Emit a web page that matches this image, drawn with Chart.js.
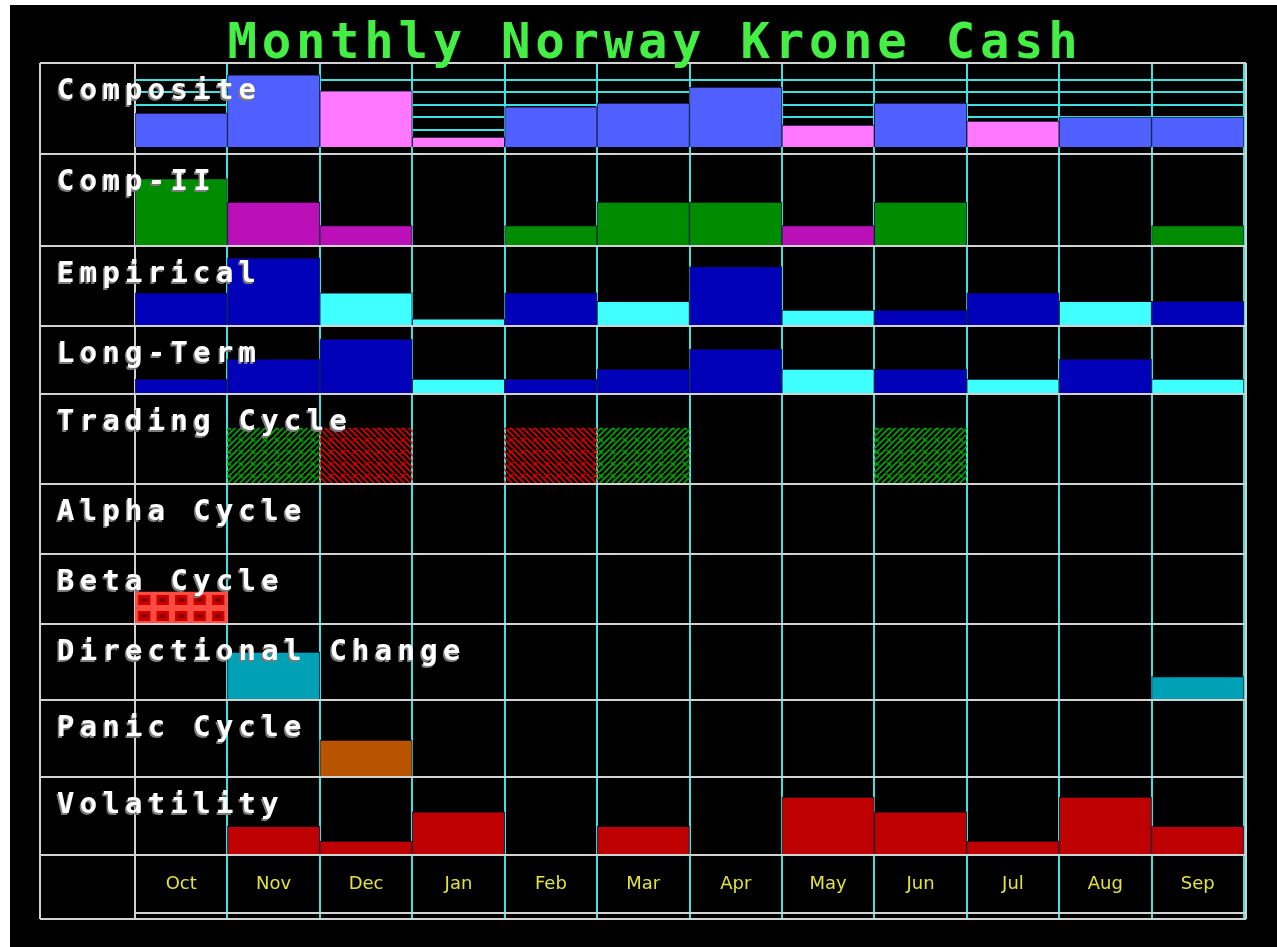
<!DOCTYPE html>
<html>
<head>
<meta charset="utf-8">
<script src="https://cdn.jsdelivr.net/npm/chart.js@4"></script>
<style>
  html, body { margin: 0; padding: 0; background: #fff; overflow: hidden; }
  #chart { position: absolute; left: 10px; top: 5px; background: #000; }
</style>
</head>
<body>
<canvas id="chart" width="1267" height="942"></canvas>
<script>
// months along the bottom
const months = ["Oct", "Nov", "Dec", "Jan", "Feb", "Mar", "Apr", "May", "Jun", "Jul", "Aug", "Sep"];
const rowNames = ["Composite", "Comp-II", "Empirical", "Long-Term", "Trading Cycle",
  "Alpha Cycle", "Beta Cycle", "Directional Change", "Panic Cycle", "Volatility"];

// signed readings, negative = bearish colour, 0 = nothing drawn
const composite = [2.35, 5.37, -4.1, -0.44, 2.83, 3.14, 4.41, -1.4, 3.14, -1.71, 2.03, 2.03];
const compII = [3, -2, -1, 0, 1, 2, 2, -1, 2, 0, 0, 1];
const empirical = [4, 8, -4, -1, 4, -3, 7, -2, 2, 4, -3, 3];
const longTerm = [1, 3, 5, -1, 1, 2, 4, -2, 2, -1, 3, -1];
const tradingCycle = [0, 1, -1, 0, -1, 1, 0, 0, 1, 0, 0, 0];
const alphaCycle = [0, 0, 0, 0, 0, 0, 0, 0, 0, 0, 0, 0];
const betaCycle = [1, 0, 0, 0, 0, 0, 0, 0, 0, 0, 0, 0];
const directionalChange = [0, 2, 0, 0, 0, 0, 0, 0, 0, 0, 0, 1];
const panicCycle = [0, 0, 1, 0, 0, 0, 0, 0, 0, 0, 0, 0];
const volatility = [0, 2, 1, 3, 0, 2, 0, 4, 3, 1, 4, 2];

const CYAN = "#3fe0e0";
const FRAME = "#d2d2d2";

function hatch(color, dir) {
  const c = document.createElement("canvas");
  c.width = c.height = 12;
  const g = c.getContext("2d");
  g.strokeStyle = color;
  g.lineWidth = 1.6;
  g.beginPath();
  for (let k = -12; k <= 24; k += 6) {
    if (dir > 0) { g.moveTo(k, 12); g.lineTo(k + 12, 0); }
    else { g.moveTo(k, 0); g.lineTo(k + 12, 12); }
  }
  g.stroke();
  g.beginPath();
  if (dir > 0) { g.moveTo(1, 1); g.lineTo(5, 5); } else { g.moveTo(11, 1); g.lineTo(7, 5); }
  g.stroke();
  return g.createPattern(c, "repeat");
}

function cells() {
  const c = document.createElement("canvas");
  c.width = 18; c.height = 16;
  const g = c.getContext("2d");
  g.fillStyle = "#ff4a40";
  g.fillRect(0, 0, 18, 16);
  g.fillStyle = "#c80000";
  g.fillRect(3, 3, 12, 10);
  g.fillStyle = "#8a0000";
  g.fillRect(6, 6, 6, 4);
  return g.createPattern(c, "repeat");
}

const greenHatch = hatch("#00a800", 1);
const redHatch = hatch("#e00000", -1);
const betaCells = cells();

// one row per indicator: weight = row height, scale range, bar base, colours
const rows = [
  { id: "yComp", data: composite, weight: 91, min: -0.905, max: 6.317, base: -0.35, up: "#5060ff", down: "#ff78ff", grid: true },
  { id: "yComp2", data: compII, weight: 92, min: 0.128, max: 4.043, up: "#008c00", down: "#bb10b8" },
  { id: "yEmp", data: empirical, weight: 80, min: 0.172, max: 9.37, up: "#0000b8", down: "#40ffff" },
  { id: "yLong", data: longTerm, weight: 68, min: -0.5, max: 6.3, up: "#0000b8", down: "#40ffff" },
  { id: "yTrade", data: tradingCycle, weight: 90, min: 0, max: 1.607, up: greenHatch, down: redHatch, border: 0 },
  { id: "yAlpha", data: alphaCycle, weight: 70, min: 0, max: 1, up: "#00a000", down: "#e00000" },
  { id: "yBeta", data: betaCycle, weight: 70, min: 0, max: 2.19, up: betaCells, down: betaCells, border: 0 },
  { id: "yDir", data: directionalChange, weight: 76, min: 0.041, max: 3.143, up: "#00a0b5", down: "#00a0b5" },
  { id: "yPanic", data: panicCycle, weight: 77, min: 0, max: 2.08, up: "#b85400", down: "#b85400" },
  { id: "yVol", data: volatility, weight: 78, min: 0.041, max: 5.38, up: "#bf0000", down: "#bf0000" }
];

const datasets = rows.map((r, i) => ({
  label: rowNames[i],
  yAxisID: r.id,
  data: r.data.map(v => (v === 0 ? null : Math.abs(v))),
  backgroundColor: r.data.map(v => (v < 0 ? r.down : r.up)),
  borderColor: "rgba(10,10,40,0.85)",
  borderWidth: r.border === undefined ? 1 : r.border,
  base: r.base === undefined ? r.min : r.base,
  grouped: false,
  categoryPercentage: 1,
  barPercentage: 1
}));

const scales = {
  x: {
    type: "category",
    offset: true,
    grid: {
      offset: true,
      color: ctx => (ctx.index === 0 ? FRAME : CYAN),
      lineWidth: 2,
      drawTicks: true,
      tickLength: 64
    },
    border: { display: false },
    ticks: {
      color: "#e2e240",
      font: { family: "DejaVu Sans", size: 18 },
      padding: -45,
      maxRotation: 0,
      autoSkip: false
    },
    afterFit: s => { s.height = 64; }
  }
};
rows.forEach(r => {
  scales[r.id] = {
    type: "linear",
    position: "right",
    stack: "rows",
    stackWeight: r.weight,
    min: r.min,
    max: r.max,
    display: !!r.grid,
    border: { display: false },
    ticks: { display: false, stepSize: 1 },
    grid: { color: CYAN, lineWidth: 2, drawTicks: false },
    afterBuildTicks: s => {
      s.ticks = s.ticks.filter(t => Number.isInteger(t.value) && t.value > 0);
    },
    afterFit: s => { s.width = 0; }
  };
});

function spaced(ctx, text, x, y, pitch) {
  for (let i = 0; i < text.length; i++) ctx.fillText(text[i], x + i * pitch, y);
}

const decor = {
  id: "decor",
  afterLayout(chart) {
    const b = chart.scales.yBeta;
    betaCells.setTransform(new DOMMatrix().translate(chart.chartArea.left, b.bottom).scale(chart.scales.x.width / 12 / 90, 1));
  },
  afterDatasetsDraw(chart) {
    const { ctx, chartArea: a, scales: sc } = chart;
    const fl = a.left - 95, fr = a.right + 2;
    const xb = sc.x.bottom;
    ctx.save();
    ctx.strokeStyle = FRAME;
    ctx.lineWidth = 2;
    ctx.beginPath();
    const ys = [a.top];
    rows.forEach(r => ys.push(sc[r.id].bottom));
    ys.forEach(y => { ctx.moveTo(fl, y); ctx.lineTo(fr, y); });
    ctx.moveTo(fl, xb); ctx.lineTo(fr, xb);
    ctx.moveTo(a.left, xb - 6); ctx.lineTo(fr, xb - 6);
    ctx.moveTo(fl, a.top); ctx.lineTo(fl, xb);
    ctx.moveTo(fr, a.top); ctx.lineTo(fr, xb);
    ctx.stroke();

    // row names
    ctx.font = "bold 29px 'DejaVu Sans Mono'";
    ctx.textBaseline = "alphabetic";
    rows.forEach((r, i) => {
      const y = sc[r.id].top + 36;
      ctx.fillStyle = "#7a7a7a";
      spaced(ctx, rowNames[i], fl + 15.5, y + 1.5, 22.7);
      ctx.fillStyle = "#ffffff";
      spaced(ctx, rowNames[i], fl + 17, y, 22.7);
    });

    // title
    const title = "Monthly Norway Krone Cash";
    const pitch = 34.2;
    ctx.font = "bold 49px 'DejaVu Sans Mono'";
    ctx.fillStyle = "#44ee44";
    spaced(ctx, title, (fl + fr) / 2 + 12 - title.length * pitch / 2, a.top - 5, pitch);
    ctx.restore();
  }
};

new Chart(document.getElementById("chart").getContext("2d"), {
  type: "bar",
  data: { labels: months, datasets },
  options: {
    responsive: false,
    animation: false,
    layout: { padding: { left: 125, right: 33, top: 58, bottom: 28 } },
    plugins: { legend: { display: false }, tooltip: { enabled: false } },
    scales
  },
  plugins: [decor]
});
</script>
</body>
</html>
